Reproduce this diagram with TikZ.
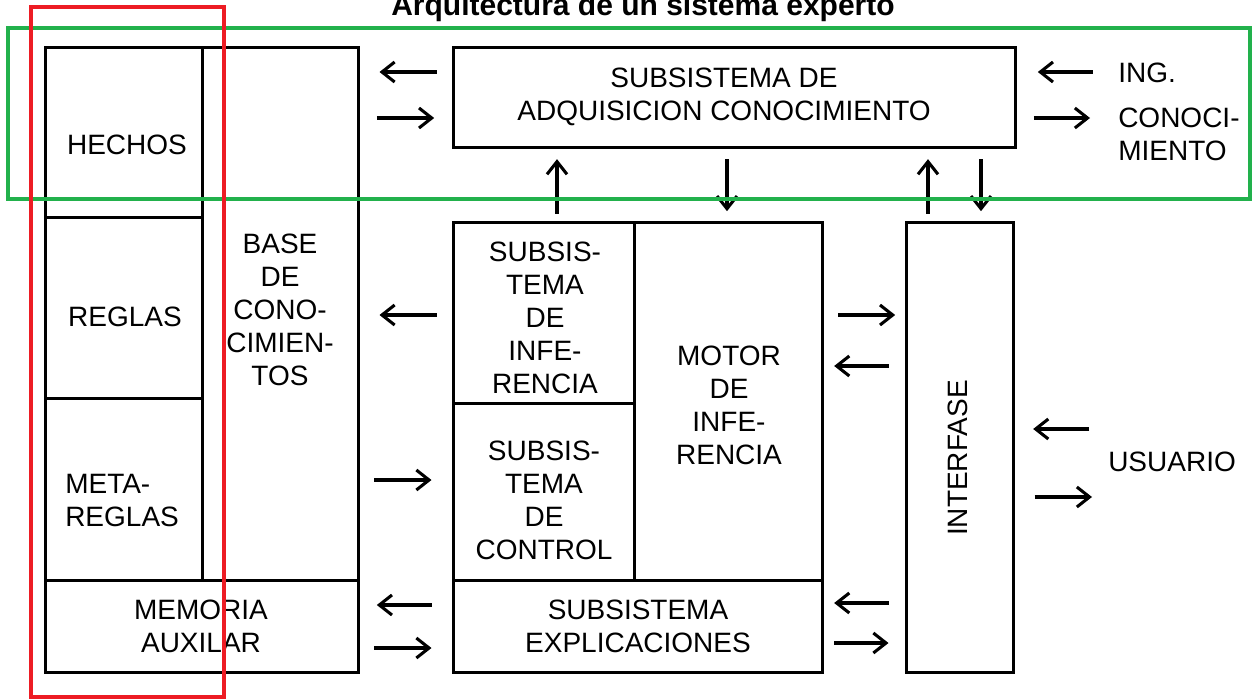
\documentclass[tikz,border=0pt]{standalone}
\usepackage{fontspec}
\setmainfont{Liberation Sans}
\usetikzlibrary{arrows.meta,fit,calc}
\definecolor{mkred}{RGB}{237,28,36}
\definecolor{mkgreen}{RGB}{34,177,76}
\begin{document}
\begin{tikzpicture}[x=0.75pt,y=-0.75pt,
  box/.style={draw=black, line width=2.25pt, inner sep=0pt, fit={#1}},
  txt/.style={font=\fontsize{21}{24.75}\selectfont, align=center, inner sep=0pt},
  arr/.style={line width=2.3pt, -{Straight Barb[length=9.5pt,width=15pt,line width=2.3pt]}},
  hilite/.style={line width=3.2pt}]
\useasboundingbox (0,0) rectangle (1258,700);
\fill[white] (0,0) rectangle (1258,700);
% title
\node[font=\bfseries\fontsize{22.5}{26}\selectfont, anchor=base, inner sep=0pt] (title) at (643,15) {Arquitectura de un sistema experto};
% left column
\node[box={(45,47) (202,217)}] (hechos) {};
\node[box={(45,217) (202,398)}] (reglas) {};
\node[box={(45,398) (202,580)}] (meta) {};
\node[box={(202,47) (358,580)}] (base) {};
\node[box={(45,580) (358,672)}] (memoria) {};
% middle
\node[box={(453,47) (1015,147)}] (adq) {};
\node[box={(453,222) (634,403)}] (inf) {};
\node[box={(453,403) (634,580)}] (ctrl) {};
\node[box={(634,222) (822,580)}] (motor) {};
\node[box={(453,580) (822,672)}] (expl) {};
\node[box={(906,222) (1013,672)}] (interfase) {};
% texts
\node[txt] (thechos) at (127,145) {HECHOS};
\node[txt] (treglas) at (125,317) {REGLAS};
\node[txt, align=left, anchor=west] (tmeta) at (65,500) {META-\\REGLAS};
\node[txt] (tbase) at (280,310) {BASE\\DE\\CONO-\\CIMIEN-\\TOS};
\node[txt] (tmem) at (201,626) {MEMORIA\\AUXILAR};
\node[txt] (tadq) at (724,97) {SUBSISTEMA DE\\ADQUISICION CONOCIMIENTO};
\node[txt] (tinf) at (545,318) {SUBSIS-\\TEMA\\DE\\INFE-\\RENCIA};
\node[txt] (tctrl) at (544,500) {SUBSIS-\\TEMA\\DE\\CONTROL};
\node[txt] (tmotor) at (729,405) {MOTOR\\DE\\INFE-\\RENCIA};
\node[txt] (texpl) at (638,626) {SUBSISTEMA\\EXPLICACIONES};
\node[txt, rotate=90] (tint) at (958,458) {INTERFASE};
\node[txt, anchor=west] (ing) at (1118,73) {ING.};
\node[txt, align=left, anchor=west] (conoc) at (1118,134) {CONOCI-\\MIENTO};
\node[txt, anchor=west] (usuario) at (1108,462) {USUARIO};
% horizontal arrows
\draw[arr, shorten <=11pt, shorten >=15pt] (adq.west |- 0,72) -- (base.east |- 0,72);
\draw[arr, shorten <=13pt, shorten >=13pt] (base.east |- 0,118) -- (adq.west |- 0,118);
\draw[arr, shorten <=11pt, shorten >=15pt] (inf.west |- 0,315) -- (base.east |- 0,315);
\draw[arr, shorten <=11pt, shorten >=15pt] (base.east |- 0,480) -- (ctrl.west |- 0,480);
\draw[arr, shorten <=15pt, shorten >=13pt] (expl.west |- 0,605) -- (memoria.east |- 0,605);
\draw[arr, shorten <=11pt, shorten >=15pt] (memoria.east |- 0,648) -- (expl.west |- 0,648);
\draw[arr, shorten <=11pt, shorten >=7pt] (motor.east |- 0,315) -- (interfase.west |- 0,315);
\draw[arr, shorten <=12pt, shorten >=8pt] (interfase.west |- 0,366) -- (motor.east |- 0,366);
\draw[arr, shorten <=12pt, shorten >=8pt] (interfase.west |- 0,603) -- (expl.east |- 0,603);
\draw[arr, shorten <=8pt, shorten >=12pt] (expl.east |- 0,643) -- (interfase.west |- 0,643);
\draw[arr, shorten <=19pt, shorten >=16pt] (ing.west |- 0,72) -- (adq.east |- 0,72);
\draw[arr, shorten <=13pt, shorten >=21pt] (adq.east |- 0,118) -- (conoc.west |- 0,118);
\draw[arr, shorten <=14pt, shorten >=14pt] (usuario.west |- 0,429) -- (interfase.east |- 0,429);
\draw[arr, shorten <=15pt, shorten >=12pt] (interfase.east |- 0,497) -- (usuario.west |- 0,497);
% vertical arrows
\draw[arr, shorten <=5pt, shorten >=8pt] (inf.north -| 557,0) -- (adq.south -| 557,0);
\draw[arr, shorten <=8pt, shorten >=7pt] (adq.south -| 727,0) -- (motor.north -| 727,0);
\draw[arr, shorten <=5pt, shorten >=8pt] (interfase.north -| 928,0) -- (adq.south -| 928,0);
\draw[arr, shorten <=8pt, shorten >=7pt] (adq.south -| 981,0) -- (interfase.north -| 981,0);
% overlay marks
\draw[hilite, draw=mkgreen] (8,28) rectangle (1250,199);
\draw[hilite, draw=mkred] (31,7) rectangle (224,697);
\end{tikzpicture}
\end{document}
